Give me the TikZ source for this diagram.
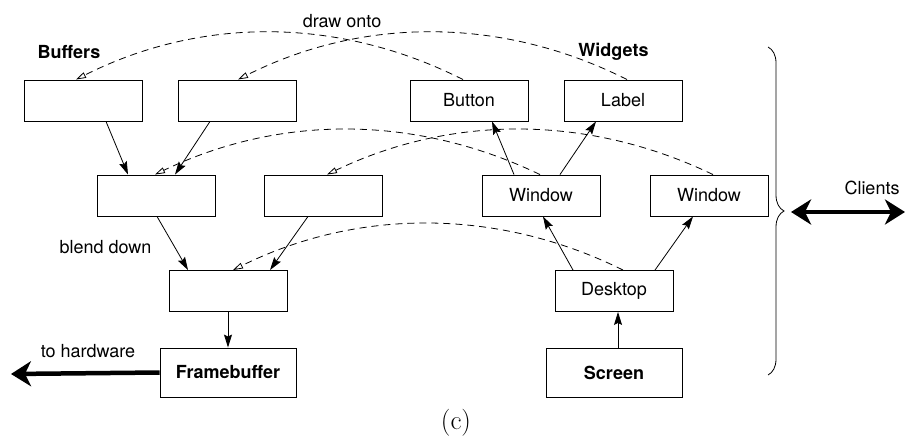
\documentclass[tikz,border=0pt]{standalone}
\usepackage{fontspec}
\setsansfont{TeX Gyre Heros}
\usetikzlibrary{arrows.meta,decorations.pathreplacing}

\begin{document}
\begin{tikzpicture}[x=1pt,y=-1pt,
    font=\sffamily\fontsize{18}{21}\selectfont,
    box/.style={draw,line width=0.9pt,minimum width=118pt,minimum height=41pt,inner sep=0pt},
    bigbox/.style={box,minimum width=136pt,minimum height=49pt,font=\sffamily\bfseries\fontsize{18}{21}\selectfont},
    title/.style={font=\sffamily\bfseries\fontsize{18}{21}\selectfont},
    feed/.style={line width=0.8pt,-{Stealth[length=13pt,width=8pt,inset=2pt]}},
    onto/.style={line width=0.8pt,dash pattern=on 7pt off 5pt,-{Triangle[open,length=10pt,width=6pt]}},
    fat/.style={line width=4.5pt,>={Stealth[length=20pt,width=25pt,inset=6pt]}}]
    \useasboundingbox (0,0) rectangle (907,441);
    % buffers side
    \node[box] (bufA) at (83.5,100.5) {};
    \node[box] (bufB) at (237,100.5) {};
    \node[box] (mixA) at (156,195.5) {};
    \node[box] (mixB) at (323.5,195.5) {};
    \node[box] (mix) at (228,291) {};
    \node[bigbox] (fb) at (228,372.5) {Framebuffer};
    % widgets side
    \node[box] (button) at (469,100.5) {Button};
    \node[box] (label) at (623,100.5) {Label};
    \node[box] (winA) at (541,195.5) {Window};
    \node[box] (winB) at (709,195.5) {Window};
    \node[box] (desk) at (614,291) {Desktop};
    \node[bigbox] (screen) at (614,372.5) {Screen};
    % texts
    \node[title] (buftitle) at (69,52) {Buffers};
    \node[title] (widtitle) at (613.5,52) {Widgets};
    \node (ontolbl) at (342,21) {draw onto};
    \node (blendlbl) at (105.5,247) {blend down};
    \node (hwlbl) at (88,351) {to hardware};
    \node (clientlbl) at (872,188) {Clients};
    \node[font=\rmfamily\fontsize{27}{30}\selectfont] (cap) at (456,423) {(c)};
    % blending
    \draw[feed] ([xshift=22.5pt]bufA.south) -- ([xshift=-28pt]mixA.north);
    \draw[feed] ([xshift=-27pt]bufB.south) -- ([xshift=19pt]mixA.north);
    \draw[feed] ([xshift=1pt]mixA.south) -- ([xshift=-40pt]mix.north);
    \draw[feed] ([xshift=-15.5pt]mixB.south) -- ([xshift=42pt]mix.north);
    \draw[feed] (mix) -- (fb);
    % widget tree
    \draw[feed] ([xshift=4pt]screen.north) -- ([xshift=4pt]desk.south);
    \draw[feed] ([xshift=-41pt]desk.north) -- ([xshift=2pt]winA.south);
    \draw[feed] ([xshift=41pt]desk.north) -- ([xshift=-16pt]winB.south);
    \draw[feed] ([xshift=-27pt]winA.north) -- ([xshift=23pt]button.south);
    \draw[feed] ([xshift=19pt]winA.north) -- ([xshift=-27pt]label.south);
    % draw onto
    \draw[onto] ([xshift=-6pt]button.north) .. controls +(-125,-63) and +(125,-63) .. ([xshift=-7.5pt]bufA.north);
    \draw[onto] ([xshift=4pt]label.north) .. controls +(-125,-63) and +(125,-63) .. ([xshift=1pt]bufB.north);
    \draw[onto] ([xshift=-1pt]winA.north) .. controls +(-125,-60) and +(125,-60) .. ([xshift=-1pt]mixA.north);
    \draw[onto] ([xshift=4pt]winB.north) .. controls +(-125,-60) and +(125,-60) .. ([xshift=3.5pt]mixB.north);
    \draw[onto] ([xshift=9pt]desk.north) .. controls +(-125,-62) and +(125,-62) .. ([xshift=5pt]mix.north);
    % clients
    \coordinate (brtop) at (768,47);
    \coordinate (brbot) at (768,375);
    \draw[line width=0.8pt,decorate,decoration={brace,amplitude=16pt}] (brtop) -- (brbot);
    \coordinate (clA) at (791,212);
    \coordinate (clB) at (905,212);
    \draw[fat,<->] (clA) -- (clB);
    \coordinate (hw) at (11,374);
    \draw[fat,->] (fb.west) -- (hw);
\end{tikzpicture}
\end{document}
